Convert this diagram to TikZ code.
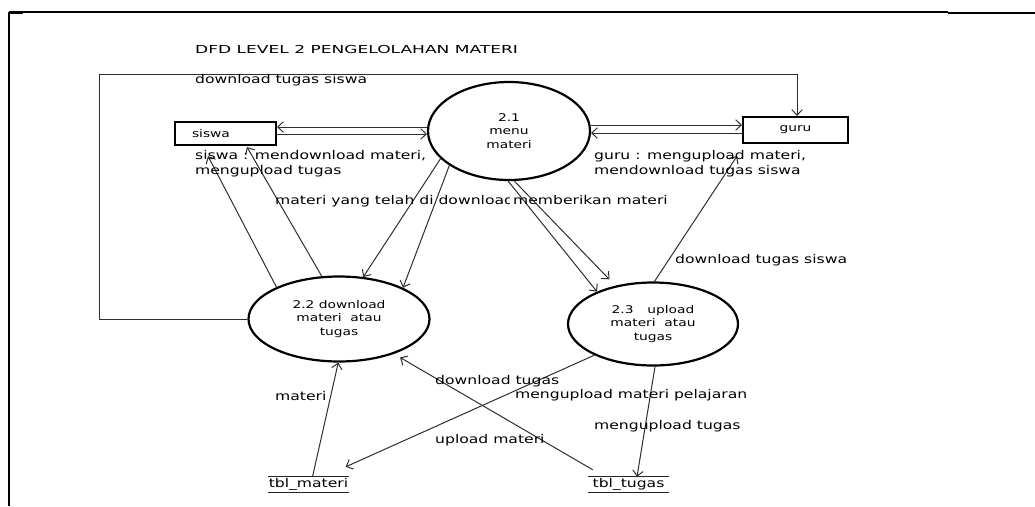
\documentclass[tikz,border=0pt]{standalone}
\usepackage{fontspec}
\setmainfont{DejaVu Sans}[FakeStretch=1.3]
\newfontfamily\titlefont{DejaVu Sans}[FakeStretch=1.55]
\usetikzlibrary{arrows.meta,shapes.geometric}
\begin{document}
\begin{tikzpicture}[x=1pt,y=-1pt,
  lbl/.style={font=\fontsize{12}{15}\selectfont, inner sep=0pt, align=left},
  proc/.style={ellipse, draw=black, line width=2.2pt, inner sep=0pt, align=center,
    font=\fontsize{10.6}{13.8}\selectfont},
  ent/.style={rectangle, draw=black, line width=2.2pt, inner sep=0pt,
    font=\fontsize{10.6}{12}\selectfont},
  store/.style={inner sep=0pt, minimum width=81pt, minimum height=15pt,
    font=\fontsize{12}{14}\selectfont},
  storeline/.style={line width=1.2pt, draw=black!85},
  flow/.style={draw=black!82, line width=1pt, -{Straight Barb[length=5.5pt,width=10.5pt]}},
]
\useasboundingbox (0,0) rectangle (1035,506);

% frame
\draw[line width=1.2pt] (9,12) -- (948,12);
\draw[line width=1.8pt] (9,506) -- (9,11.6);
\draw[line width=2pt] (8,12.5) -- (23,12.5);
\draw[line width=2pt] (948,12.5) -- (1035,12.5);

% title
\node[font=\titlefont\fontsize{11}{13}\selectfont, inner sep=0pt, anchor=base west] (title) at (195,53) {DFD LEVEL 2 PENGELOLAHAN MATERI};

% processes
\node[proc, minimum width=162pt, minimum height=98pt] (p21) at (509,131) {2.1\\menu\\materi};
\node[proc, minimum width=181pt, minimum height=85pt] (p22) at (339,319) {2.2 download\\materi\ \ atau\\tugas};
\node[proc, minimum width=170pt, minimum height=83pt] (p23) at (653,324) {2.3\hspace{1.3em}upload\\materi\ \ atau\\tugas};

% entities
\node[ent, minimum width=101pt, minimum height=23pt, text width=67pt, align=left, inner xsep=17pt] (siswa) at (225.5,133.5) {siswa};
\node[ent, minimum width=105pt, minimum height=26pt] (guru) at (795.5,130) {guru};

% data stores
\node[store] (tm) at (308.5,484.5) {tbl\_materi};
\node[store] (tt) at (628.5,484.5) {tbl\_tugas};
\draw[storeline] (tm.north west) -- (tm.north east) (tm.south west) -- (tm.south east);
\draw[storeline] (tt.north west) -- (tt.north east) (tt.south west) -- (tt.south east);

% flows siswa / guru <-> 2.1
\draw[flow] ([yshift=4pt]p21.west) -- ([yshift=6.5pt]siswa.east);
\draw[flow] ([yshift=-0.5pt]siswa.east) -- ([yshift=-3pt]p21.west);
\draw[flow] ([yshift=6pt]p21.east) -- ([yshift=5pt]guru.west);
\draw[flow] ([yshift=-3pt]guru.west) -- ([yshift=-2pt]p21.east);

% feedback loop 2.2 -> guru
\coordinate (fbTL) at (99,74);
\draw[flow] (p22.west) -| (fbTL) -| ([xshift=1.5pt]guru.north);

% 2.2 -> siswa
\draw[flow] (p22.153) -- ([xshift=-17.5pt,yshift=-10pt]siswa.south);
\draw[flow] (p22.112) -- ([xshift=21.5pt,yshift=-1pt]siswa.south);

% 2.1 -> 2.2
\draw[flow] (p21.202) -- (p22.60);
\draw[flow] (p21.210) -- (p22.26);

% 2.1 -> 2.3
\draw[flow] (p21.269) -- (p23.150);
\draw[flow] (p21.276) -- ([yshift=8pt]p23.140);

% 2.3 -> guru
\draw[flow] (p23.88) -- ([xshift=-58.5pt,yshift=-12pt]guru.south);

% stores
\draw[flow] ([xshift=4pt]tm.north) -- (p22.269);
\draw[flow] ([xshift=5pt,yshift=7pt]tt.north west) -- ([yshift=-6pt]p22.-28);
\draw[flow] (p23.208) -- ([xshift=-3.5pt,yshift=10pt]tm.north east);
\draw[flow] ([xshift=2pt]p23.south) -- ([xshift=8.5pt]tt.north);

% labels
\node[lbl, anchor=base west] (l1) at (195,83) {download tugas siswa};
\node[lbl, anchor=west] (l2) at (195,163.5) {siswa : mendownload materi,\\mengupload tugas};
\node[lbl, anchor=west] (l3) at (594,163.5) {guru : mengupload materi,\\mendownload tugas siswa};
\begin{scope}
\clip (0,0) rectangle (509,506);
\node[lbl, anchor=base west] (l4) at (275,204) {materi yang telah di download};
\end{scope}
\node[lbl, anchor=base west] (l5) at (513,204) {memberikan materi};
\node[lbl, anchor=base west] (l6) at (675,263) {download tugas siswa};
\node[lbl, anchor=base west] (l7) at (275,400) {materi};
\node[lbl, anchor=base west] (l8) at (435,384) {download tugas};
\node[lbl, anchor=base west] (l9) at (515,398) {mengupload materi pelajaran};
\node[lbl, anchor=base west] (l10) at (594,429) {mengupload tugas};
\node[lbl, anchor=base west] (l11) at (435,443) {upload materi};
\end{tikzpicture}
\end{document}
